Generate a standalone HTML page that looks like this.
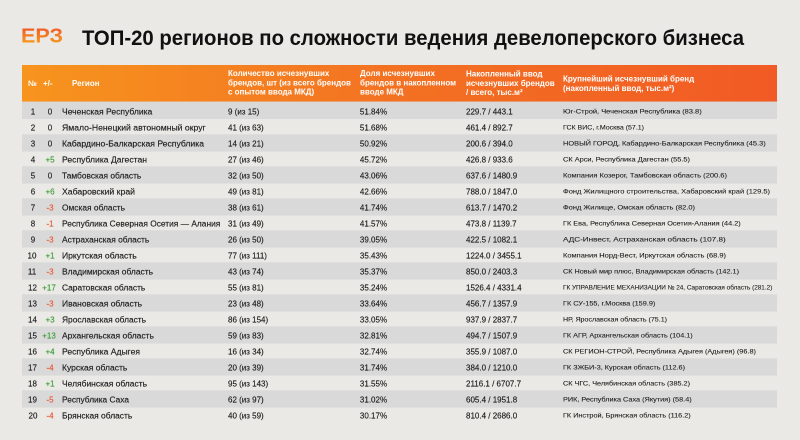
<!DOCTYPE html>
<html><head><meta charset="utf-8"><style>
html,body{margin:0;padding:0;background:#eae9e5;}
svg{display:block;}
text{font-family:"Liberation Sans","Noto Sans CJK SC",sans-serif;}
</style></head><body>
<svg width="800" height="440" viewBox="0 0 800 440" xmlns="http://www.w3.org/2000/svg">
<defs>
<linearGradient id="hg" x1="22" y1="0" x2="777" y2="0" gradientUnits="userSpaceOnUse">
<stop offset="0" stop-color="#f7941e"/><stop offset="0.5" stop-color="#f37122"/><stop offset="1" stop-color="#f15a24"/>
</linearGradient>
<linearGradient id="lg" x1="0" y1="28" x2="0" y2="42" gradientUnits="userSpaceOnUse">
<stop offset="0" stop-color="#f05a28"/><stop offset="1" stop-color="#f7951f"/>
</linearGradient>
</defs>
<rect width="800" height="440" fill="#eae9e5"/>
<text x="21" y="42.5" font-size="20" font-weight="bold" fill="url(#lg)" textLength="42" lengthAdjust="spacingAndGlyphs">ЕРЗ</text>
<text x="82" y="44.8" font-size="21" font-weight="bold" fill="#111" textLength="662" lengthAdjust="spacingAndGlyphs">ТОП-20 регионов по сложности ведения девелоперского бизнеса</text>
<rect x="22" y="65" width="755" height="36.7" fill="url(#hg)"/>
<g fill="#fff" font-size="8" font-weight="bold">
<text x="28" y="86">№</text><text x="43" y="86">+/-</text><text x="72" y="86">Регион</text>
<text x="228" y="76">Количество исчезнувших</text><text x="228" y="85.3">брендов, шт (из всего брендов</text><text x="228" y="94.6">с опытом ввода МКД)</text>
<text x="360" y="76">Доля исчезнувших</text><text x="360" y="85.3">брендов в накопленном</text><text x="360" y="94.6">вводе МКД</text>
<text x="466" y="76.5">Накопленный ввод</text><text x="466" y="86">исчезнувших брендов</text><text x="466" y="95">/ всего, тыс.м²</text>
<text x="563" y="81.5">Крупнейший исчезнувший бренд</text><text x="563" y="90.8">(накопленный ввод, тыс.м²)</text>
</g>
<g fill="#d9d9d9">
<rect x="22" y="101.7" width="755" height="17.3"/>
<rect x="22" y="134.3" width="755" height="17.3"/>
<rect x="22" y="166.3" width="755" height="17.3"/>
<rect x="22" y="198.3" width="755" height="17.3"/>
<rect x="22" y="230.3" width="755" height="17.3"/>
<rect x="22" y="262.3" width="755" height="17.3"/>
<rect x="22" y="294.3" width="755" height="17.3"/>
<rect x="22" y="326.3" width="755" height="17.3"/>
<rect x="22" y="358.3" width="755" height="17.3"/>
<rect x="22" y="390.3" width="755" height="17.3"/>
</g>
<g font-size="8" fill="#1e1e1e" stroke="#1e1e1e" stroke-width="0.15">
<g text-anchor="middle">
<text x="33" y="114.6">1</text><text x="33" y="130.6">2</text><text x="33" y="146.6">3</text><text x="33" y="162.6">4</text><text x="33" y="178.6">5</text><text x="33" y="194.6">6</text><text x="33" y="210.6">7</text><text x="33" y="226.6">8</text><text x="33" y="242.6">9</text><text x="32" y="258.6">10</text><text x="32" y="274.6">11</text><text x="32.5" y="290.6">12</text><text x="32.5" y="306.6">13</text><text x="32.5" y="322.6">14</text><text x="32.5" y="338.6">15</text><text x="32.5" y="354.6">16</text><text x="32.5" y="370.6">17</text><text x="32.5" y="386.6">18</text><text x="32.5" y="402.6">19</text><text x="33" y="418.6">20</text>
</g>
<g text-anchor="middle">
<text x="50" y="114.6">0</text><text x="50" y="130.6">0</text><text x="50" y="146.6">0</text><text x="50" y="162.6" fill="#3e9e3a" stroke="#3e9e3a">+5</text><text x="50" y="178.6">0</text><text x="50" y="194.6" fill="#3e9e3a" stroke="#3e9e3a">+6</text><text x="50" y="210.6" fill="#e85a3a" stroke="#e85a3a">-3</text><text x="50" y="226.6" fill="#e85a3a" stroke="#e85a3a">-1</text><text x="50" y="242.6" fill="#e85a3a" stroke="#e85a3a">-3</text><text x="50" y="258.6" fill="#3e9e3a" stroke="#3e9e3a">+1</text><text x="50" y="274.6" fill="#e85a3a" stroke="#e85a3a">-3</text><text x="49" y="290.6" fill="#3e9e3a" stroke="#3e9e3a">+17</text><text x="50" y="306.6" fill="#e85a3a" stroke="#e85a3a">-3</text><text x="50" y="322.6" fill="#3e9e3a" stroke="#3e9e3a">+3</text><text x="49" y="338.6" fill="#3e9e3a" stroke="#3e9e3a">+13</text><text x="50" y="354.6" fill="#3e9e3a" stroke="#3e9e3a">+4</text><text x="50" y="370.6" fill="#e85a3a" stroke="#e85a3a">-4</text><text x="50" y="386.6" fill="#3e9e3a" stroke="#3e9e3a">+1</text><text x="50" y="402.6" fill="#e85a3a" stroke="#e85a3a">-5</text><text x="50" y="418.6" fill="#e85a3a" stroke="#e85a3a">-4</text>
</g>
<g>
<text x="62" y="114.6" textLength="90.3" lengthAdjust="spacingAndGlyphs">Чеченская Республика</text>
<text x="62" y="130.6" textLength="143.7" lengthAdjust="spacingAndGlyphs">Ямало-Ненецкий автономный округ</text>
<text x="62" y="146.6" textLength="142" lengthAdjust="spacingAndGlyphs">Кабардино-Балкарская Республика</text>
<text x="62" y="162.6" textLength="85" lengthAdjust="spacingAndGlyphs">Республика Дагестан</text>
<text x="62" y="178.6" textLength="79.3" lengthAdjust="spacingAndGlyphs">Тамбовская область</text>
<text x="62" y="194.6" textLength="73" lengthAdjust="spacingAndGlyphs">Хабаровский край</text>
<text x="62" y="210.6" textLength="63" lengthAdjust="spacingAndGlyphs">Омская область</text>
<text x="62" y="226.6" textLength="158.3" lengthAdjust="spacingAndGlyphs">Республика Северная Осетия — Алания</text>
<text x="62" y="242.6" textLength="87.3" lengthAdjust="spacingAndGlyphs">Астраханская область</text>
<text x="62" y="258.6" textLength="74.7" lengthAdjust="spacingAndGlyphs">Иркутская область</text>
<text x="62" y="274.6" textLength="91" lengthAdjust="spacingAndGlyphs">Владимирская область</text>
<text x="62" y="290.6" textLength="83.3" lengthAdjust="spacingAndGlyphs">Саратовская область</text>
<text x="62" y="306.6" textLength="80" lengthAdjust="spacingAndGlyphs">Ивановская область</text>
<text x="62" y="322.6" textLength="84" lengthAdjust="spacingAndGlyphs">Ярославская область</text>
<text x="62" y="338.6" textLength="92" lengthAdjust="spacingAndGlyphs">Архангельская область</text>
<text x="62" y="354.6" textLength="78" lengthAdjust="spacingAndGlyphs">Республика Адыгея</text>
<text x="62" y="370.6" textLength="65.3" lengthAdjust="spacingAndGlyphs">Курская область</text>
<text x="62" y="386.6" textLength="85" lengthAdjust="spacingAndGlyphs">Челябинская область</text>
<text x="62" y="402.6" textLength="67" lengthAdjust="spacingAndGlyphs">Республика Саха</text>
<text x="62" y="418.6" textLength="70.3" lengthAdjust="spacingAndGlyphs">Брянская область</text>
</g>
<g>
<text x="228" y="114.6">9 (из 15)</text><text x="228" y="130.6">41 (из 63)</text><text x="228" y="146.6">14 (из 21)</text><text x="228" y="162.6">27 (из 46)</text><text x="228" y="178.6">32 (из 50)</text><text x="228" y="194.6">49 (из 81)</text><text x="228" y="210.6">38 (из 61)</text><text x="228" y="226.6">31 (из 49)</text><text x="228" y="242.6">26 (из 50)</text><text x="228" y="258.6">77 (из 111)</text><text x="228" y="274.6">43 (из 74)</text><text x="228" y="290.6">55 (из 81)</text><text x="228" y="306.6">23 (из 48)</text><text x="228" y="322.6">86 (из 154)</text><text x="228" y="338.6">59 (из 83)</text><text x="228" y="354.6">16 (из 34)</text><text x="228" y="370.6">20 (из 39)</text><text x="228" y="386.6">95 (из 143)</text><text x="228" y="402.6">62 (из 97)</text><text x="228" y="418.6">40 (из 59)</text>
</g>
<g text-anchor="middle">
<text x="373.5" y="114.6">51.84%</text><text x="373.5" y="130.6">51.68%</text><text x="373.5" y="146.6">50.92%</text><text x="373.5" y="162.6">45.72%</text><text x="373.5" y="178.6">43.06%</text><text x="373.5" y="194.6">42.66%</text><text x="373.5" y="210.6">41.74%</text><text x="373.5" y="226.6">41.57%</text><text x="373.5" y="242.6">39.05%</text><text x="373.5" y="258.6">35.43%</text><text x="373.5" y="274.6">35.37%</text><text x="373.5" y="290.6">35.24%</text><text x="373.5" y="306.6">33.64%</text><text x="373.5" y="322.6">33.05%</text><text x="373.5" y="338.6">32.81%</text><text x="373.5" y="354.6">32.74%</text><text x="373.5" y="370.6">31.74%</text><text x="373.5" y="386.6">31.55%</text><text x="373.5" y="402.6">31.02%</text><text x="373.5" y="418.6">30.17%</text>
</g>
<g>
<text x="466" y="114.6">229.7 / 443.1</text><text x="466" y="130.6">461.4 / 892.7</text><text x="466" y="146.6">200.6 / 394.0</text><text x="466" y="162.6">426.8 / 933.6</text><text x="466" y="178.6">637.6 / 1480.9</text><text x="466" y="194.6">788.0 / 1847.0</text><text x="466" y="210.6">613.7 / 1470.2</text><text x="466" y="226.6">473.8 / 1139.7</text><text x="466" y="242.6">422.5 / 1082.1</text><text x="466" y="258.6">1224.0 / 3455.1</text><text x="466" y="274.6">850.0 / 2403.3</text><text x="466" y="290.6">1526.4 / 4331.4</text><text x="466" y="306.6">456.7 / 1357.9</text><text x="466" y="322.6">937.9 / 2837.7</text><text x="466" y="338.6">494.7 / 1507.9</text><text x="466" y="354.6">355.9 / 1087.0</text><text x="466" y="370.6">384.0 / 1210.0</text><text x="466" y="386.6">2116.1 / 6707.7</text><text x="466" y="402.6">605.4 / 1951.8</text><text x="466" y="418.6">810.4 / 2686.0</text>
</g>
</g>
<g font-size="6.8" fill="#1e1e1e" stroke="#1e1e1e" stroke-width="0.1">
<text x="563" y="113.4" textLength="138.7" lengthAdjust="spacingAndGlyphs">Юг-Строй, Чеченская Республика (83.8)</text>
<text x="563" y="129.4" textLength="81" lengthAdjust="spacingAndGlyphs">ГСК ВИС, г.Москва (57.1)</text>
<text x="563" y="145.4" textLength="202.7" lengthAdjust="spacingAndGlyphs">НОВЫЙ ГОРОД, Кабардино-Балкарская Республика (45.3)</text>
<text x="563" y="161.4" textLength="127" lengthAdjust="spacingAndGlyphs">СК Арси, Республика Дагестан (55.5)</text>
<text x="563" y="177.4" textLength="164" lengthAdjust="spacingAndGlyphs">Компания Козерог, Тамбовская область (200.6)</text>
<text x="563" y="193.4" textLength="207" lengthAdjust="spacingAndGlyphs">Фонд Жилищного строительства, Хабаровский край (129.5)</text>
<text x="563" y="209.4" textLength="132" lengthAdjust="spacingAndGlyphs">Фонд Жилище, Омская область (82.0)</text>
<text x="563" y="225.4" textLength="177.7" lengthAdjust="spacingAndGlyphs">ГК Ева, Республика Северная Осетия-Алания (44.2)</text>
<text x="563" y="241.4" textLength="162.7" lengthAdjust="spacingAndGlyphs">АДС-Инвест, Астраханская область (107.8)</text>
<text x="563" y="257.4" textLength="163" lengthAdjust="spacingAndGlyphs">Компания Норд-Вест, Иркутская область (68.9)</text>
<text x="563" y="273.4" textLength="176" lengthAdjust="spacingAndGlyphs">СК Новый мир плюс, Владимирская область (142.1)</text>
<text x="563" y="289.4" textLength="209.3" lengthAdjust="spacingAndGlyphs" font-size="6.2">ГК УПРАВЛЕНИЕ МЕХАНИЗАЦИИ № 24, Саратовская область (281.2)</text>
<text x="563" y="305.4" textLength="92.3" lengthAdjust="spacingAndGlyphs">ГК СУ-155, г.Москва (159.9)</text>
<text x="563" y="321.4" textLength="104" lengthAdjust="spacingAndGlyphs">НР, Ярославская область (75.1)</text>
<text x="563" y="337.4" textLength="129.7" lengthAdjust="spacingAndGlyphs">ГК АГР, Архангельская область (104.1)</text>
<text x="563" y="353.4" textLength="193" lengthAdjust="spacingAndGlyphs">СК РЕГИОН-СТРОЙ, Республика Адыгея (Адыгея) (96.8)</text>
<text x="563" y="369.4" textLength="122" lengthAdjust="spacingAndGlyphs">ГК ЗЖБИ-3, Курская область (112.6)</text>
<text x="563" y="385.4" textLength="127" lengthAdjust="spacingAndGlyphs">СК ЧГС, Челябинская область (385.2)</text>
<text x="563" y="401.4" textLength="128.7" lengthAdjust="spacingAndGlyphs">РИК, Республика Саха (Якутия) (58.4)</text>
<text x="563" y="417.4" textLength="127.7" lengthAdjust="spacingAndGlyphs">ГК Инстрой, Брянская область (116.2)</text>
</g>
</svg>
</body></html>
